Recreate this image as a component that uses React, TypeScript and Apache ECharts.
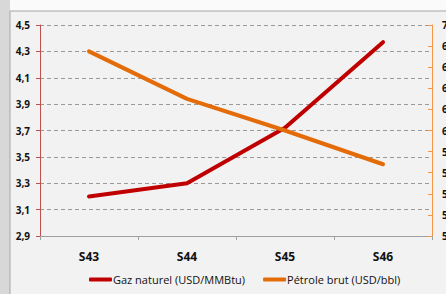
import React, { useEffect, useRef } from "react";
import * as echarts from "echarts";

const categories = ["S43", "S44", "S45", "S46"];
const gasValues = [3.2, 3.3, 3.72, 4.37];
const oilValues = [67.5, 63.0, 60.0, 56.8];
const leftTicks = { min: 2.9, max: 4.5, interval: 0.2 };
const rightTicks = { min: 50, max: 70, interval: 2 };

export default function App() {
  const ref = useRef<HTMLDivElement>(null);
  useEffect(() => {
    const chart = echarts.init(ref.current!, null, { renderer: "svg" });
    const font = "'Open Sans', 'Liberation Sans', sans-serif";
    chart.setOption({
      animation: false,
      backgroundColor: "#fafafa",
      graphic: [
        { type: "rect", shape: { x: 0, y: 0, width: 10, height: 294 }, style: { fill: "#d8d8d8" } },
        { type: "rect", shape: { x: 10, y: 11, width: 440, height: 290 }, style: { fill: "#f2f2f2", stroke: "#a6a6a6", lineWidth: 1 } },
      ],
      grid: { left: 40, right: 14, top: 25, bottom: 58, outerBoundsMode: "none", containLabel: false },
      legend: {
        bottom: 4,
        left: 84,
        itemWidth: 23,
        itemHeight: 4,
        itemGap: 18,
        icon: "roundRect",
        textStyle: { fontFamily: font, fontSize: 11, color: "#111", padding: [0, 0, 0, -4] },
        data: ["Gaz naturel (USD/MMBtu)", "Pétrole brut (USD/bbl)"],
      },
      xAxis: {
        type: "category",
        data: categories,
        boundaryGap: true,
        axisLine: { lineStyle: { color: "#a0a0a0" } },
        axisTick: { show: true, length: 4, lineStyle: { color: "#a0a0a0" } },
        axisLabel: { fontFamily: font, fontSize: 12, fontWeight: "bold", color: "#111", margin: 14 },
      },
      yAxis: [
        {
          type: "value",
          ...leftTicks,
          axisLine: { show: true, lineStyle: { color: "#c0504d" } },
          axisTick: { show: true, inside: false, length: 4, lineStyle: { color: "#c0504d" } },
          axisLabel: {
            fontFamily: font, fontSize: 10, fontWeight: "bold", color: "#111", margin: 10,
            formatter: (v: number) => v.toFixed(1).replace(".", ","),
          },
          splitLine: { show: true, lineStyle: { color: "#9a9a9a", type: [4, 3] } },
        },
        {
          type: "value",
          ...rightTicks,
          position: "right",
          axisLine: { show: true, lineStyle: { color: "#f79646" } },
          axisTick: { show: true, inside: true, length: 4, lineStyle: { color: "#f79646" } },
          axisLabel: { fontFamily: font, fontSize: 10, fontWeight: "bold", color: "#111", margin: 10 },
          splitLine: { show: false },
        },
      ],
      series: [
        {
          name: "Gaz naturel (USD/MMBtu)",
          type: "line",
          data: gasValues,
          yAxisIndex: 0,
          showSymbol: false,
          symbol: "none",
          color: "#c00000",
          lineStyle: { width: 4, color: "#c00000", cap: "round", join: "round" },
        },
        {
          name: "Pétrole brut (USD/bbl)",
          type: "line",
          data: oilValues,
          yAxisIndex: 1,
          showSymbol: false,
          symbol: "none",
          color: "#e36c09",
          lineStyle: { width: 4, color: "#e36c09", cap: "round", join: "round" },
        },
      ],
    });
    return () => chart.dispose();
  }, []);
  return <div ref={ref} style={{ width: 446, height: 294, position: "fixed", left: 0, top: 0, overflow: "hidden" }} />;
}
